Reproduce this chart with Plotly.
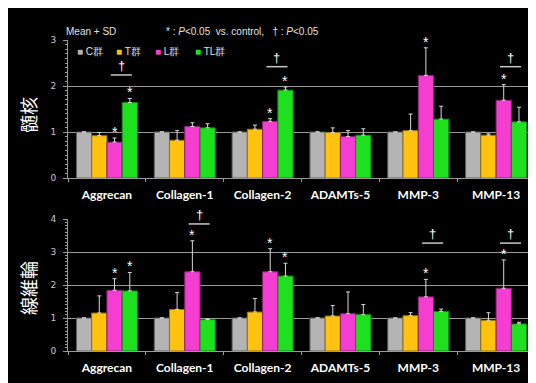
import plotly.graph_objects as go

# ---------------- data ----------------
categories = ["Aggrecan", "Collagen-1", "Collagen-2", "ADAMTs-5", "MMP-3", "MMP-13"]
groups = ["C群", "T群", "L群", "TL群"]

# 髄核 (top panel)
np_C = [1.00, 1.00, 1.00, 1.00, 1.00, 1.00]
np_T = [0.92, 0.82, 1.06, 0.99, 1.03, 0.93]
np_L = [0.78, 1.12, 1.23, 0.90, 2.23, 1.69]
np_TL = [1.64, 1.09, 1.91, 0.93, 1.28, 1.22]
np_C_sd = [0.00, 0.00, 0.00, 0.00, 0.00, 0.00]
np_T_sd = [0.07, 0.21, 0.09, 0.10, 0.36, 0.03]
np_L_sd = [0.09, 0.08, 0.06, 0.13, 0.60, 0.34]
np_TL_sd = [0.09, 0.09, 0.07, 0.14, 0.28, 0.32]

# 線維輪 (bottom panel)
af_C = [1.00, 1.00, 1.00, 1.00, 1.00, 1.00]
af_T = [1.15, 1.26, 1.18, 1.06, 1.07, 0.93]
af_L = [1.84, 2.40, 2.40, 1.13, 1.64, 1.90]
af_TL = [1.82, 0.95, 2.27, 1.10, 1.20, 0.82]
af_C_sd = [0.00, 0.00, 0.00, 0.00, 0.00, 0.00]
af_T_sd = [0.52, 0.51, 0.41, 0.32, 0.09, 0.23]
af_L_sd = [0.35, 0.94, 0.70, 0.66, 0.53, 0.86]
af_TL_sd = [0.56, 0.02, 0.39, 0.31, 0.07, 0.05]

# significance marks: (category, group) for "*" ; category for "†"
np_stars = [("Aggrecan", "L群"), ("Aggrecan", "TL群"), ("Collagen-2", "L群"),
            ("Collagen-2", "TL群"), ("MMP-3", "L群"), ("MMP-13", "L群")]
af_stars = [("Aggrecan", "L群"), ("Aggrecan", "TL群"), ("Collagen-1", "L群"),
            ("Collagen-2", "L群"), ("Collagen-2", "TL群"), ("MMP-3", "L群"), ("MMP-13", "L群")]
np_daggers = ["Aggrecan", "Collagen-2", "MMP-3", "MMP-13"]
af_daggers = ["Collagen-1", "MMP-3", "MMP-13"]

# ---------------- layout constants ----------------
W, H = 528, 375               # fits the window next to the 8px page margin
OFFX, OFFY = 8, 8            # page body margin in the screenshot
ML, MR, MT, MB = 60, 1, 32, 32
PW, PH = W - ML - MR, H - MT - MB
# screenshot rows of top-panel zero and bottom-panel top
TOP_Y0_S, BOT_Y1_S = 178, 219


def px_x(sx):
    return (sx - OFFX - ML) / PW


def px_y(sy):
    return (H - MB - (sy - OFFY)) / PH


top_dom = [px_y(TOP_Y0_S), 1.0]
bot_dom = [0.0, px_y(BOT_Y1_S)]

# dagger bracket heights (layout, data units of each panel)
DAGGER_LEVEL = {
    ("top", "Aggrecan"): 2.24, ("top", "Collagen-2"): 2.42,
    ("top", "MMP-3"): 3.14, ("top", "MMP-13"): 2.42,
    ("bot", "Collagen-1"): 3.85, ("bot", "MMP-3"): 3.27, ("bot", "MMP-13"): 3.27,
}

colors = ["#b4b4b4", "#ffc20e", "#f53dd2", "#1fe01f"]
edge = ["#5a5a5a", "#9a7400", "#8c1f78", "#0e8a0e"]
GRID = "#9a9a9a"
BARGAP = 0.216
bw = (1 - BARGAP) / 4
offsets = [(-1.5 + i) * bw for i in range(4)]

fig = go.Figure()

panels = [
    ("top", "x", "y", [np_C, np_T, np_L, np_TL], [np_C_sd, np_T_sd, np_L_sd, np_TL_sd], np_stars, np_daggers),
    ("bot", "x2", "y2", [af_C, af_T, af_L, af_TL], [af_C_sd, af_T_sd, af_L_sd, af_TL_sd], af_stars, af_daggers),
]

annotations = []
shapes = []

for key, xa, ya, series, sds, stars, daggers in panels:
    for gi, (g, vals, sd) in enumerate(zip(groups, series, sds)):
        fig.add_trace(go.Bar(
            x=categories, y=vals, name=g, xaxis=xa, yaxis=ya,
            marker=dict(color=colors[gi], line=dict(color=edge[gi], width=1)),
            error_y=dict(type="data", array=sd, arrayminus=[0] * len(sd), symmetric=False,
                         color="#d8d8d8", thickness=1, width=2, visible=True),
            showlegend=False,
        ))
    for cat, g in stars:
        ci = categories.index(cat)
        gi = groups.index(g)
        top = series[gi][ci] + sds[gi][ci]
        annotations.append(dict(
            x=ci + offsets[gi], y=top, xref=xa, yref=ya, text="*",
            showarrow=False, yanchor="bottom", yshift=-4,
            font=dict(family="Liberation Sans", size=14, color="white")))
    for cat in daggers:
        ci = categories.index(cat)
        lvl = DAGGER_LEVEL[(key, cat)]
        shapes.append(dict(type="line", xref=xa, yref=ya,
                           x0=ci + 0.05, x1=ci + 0.32, y0=lvl, y1=lvl,
                           line=dict(color="#c8c8c8", width=1.5)))
        annotations.append(dict(
            x=ci + 0.185, y=lvl, xref=xa, yref=ya, text="†",
            showarrow=False, yanchor="bottom", yshift=0,
            font=dict(family="Liberation Sans", size=13, color="white")))

# y titles
annotations.append(dict(x=px_x(28), y=px_y(115), xref="paper", yref="paper", text="髄核",
                        textangle=-90, showarrow=False, xanchor="center", yanchor="middle",
                        font=dict(family="Noto Sans CJK JP", size=18, color="white")))
annotations.append(dict(x=px_x(28), y=px_y(288), xref="paper", yref="paper", text="線維輪",
                        textangle=-90, showarrow=False, xanchor="center", yanchor="middle",
                        font=dict(family="Noto Sans CJK JP", size=18, color="white")))

# header texts
hdr_font = dict(family="Liberation Sans", size=10, color="#e0e0e0")
annotations.append(dict(x=px_x(64), y=px_y(31), xref="paper", yref="paper", text="Mean + SD",
                        xanchor="left", yanchor="middle", showarrow=False, font=hdr_font))
annotations.append(dict(x=px_x(164), y=px_y(31), xref="paper", yref="paper",
                        text="* : <i>P</i>&lt;0.05  vs. control,   † : <i>P</i>&lt;0.05",
                        xanchor="left", yanchor="middle", showarrow=False, font=hdr_font))

# legend (as text items)
leg_x = [75, 114, 153, 193]
for gi, g in enumerate(groups):
    annotations.append(dict(
        x=px_x(leg_x[gi]), y=px_y(52), xref="paper", yref="paper",
        text=f'<span style="color:{colors[gi]}">■</span> {g}',
        xanchor="left", yanchor="middle", showarrow=False, font=hdr_font))

xcommon = dict(type="category", showline=True, linecolor=GRID, linewidth=1,
               ticks="outside", tickson="boundaries", ticklen=3, tickcolor=GRID,
               tickfont=dict(family="Lato", size=12, color="white", weight="bold"),
               showgrid=False, range=[-0.5, 5.5], ticklabelstandoff=6)
ycommon = dict(showgrid=True, gridcolor=GRID, gridwidth=1, showline=True, linecolor=GRID,
               ticks="outside", ticklen=4, tickcolor=GRID, dtick=1, zeroline=False,
               tickfont=dict(family="DejaVu Sans", size=9, color="#c8c8c8"),
               minor=dict(ticks="outside", ticklen=2, dtick=0.1, tickcolor=GRID, showgrid=False),
               ticklabelstandoff=5)

fig.update_layout(
    width=W, height=H,
    margin=dict(l=ML, r=MR, t=MT, b=MB),
    paper_bgcolor="black", plot_bgcolor="black",
    barmode="group", bargap=BARGAP, bargroupgap=0.0,
    xaxis=dict(anchor="y", domain=[0, 1], **xcommon),
    yaxis=dict(anchor="x", domain=top_dom, range=[0, 3], mirror=True, **ycommon),
    xaxis2=dict(anchor="y2", domain=[0, 1], **xcommon),
    yaxis2=dict(anchor="x2", domain=bot_dom, range=[0, 4], **ycommon),
    annotations=annotations, shapes=shapes,
    showlegend=False,
)

fig.write_html("out.html")
